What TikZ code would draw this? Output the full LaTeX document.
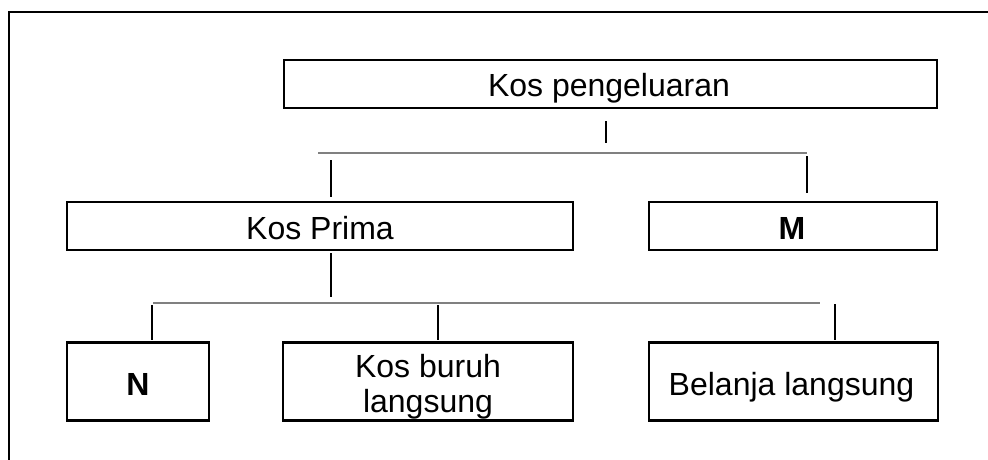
\documentclass[tikz,border=0pt]{standalone}
\usepackage{fontspec}
\setmainfont{Liberation Sans}
\begin{document}
\begin{tikzpicture}[x=1pt,y=-1pt,
  box/.style={draw=black,line width=2.4pt,inner sep=0pt,fill=none},
  lbl/.style={anchor=base,inner sep=0pt,font=\fontsize{32}{36}\selectfont},
  blbl/.style={lbl,font=\fontsize{32}{36}\selectfont\bfseries},
  conn/.style={draw=black,line width=2.6pt},
  bar/.style={draw=gray,line width=2.8pt},
  frame/.style={draw=black,line width=2.4pt}]
\useasboundingbox (0,0) rectangle (988,460);
% frame
\coordinate (fl) at (9,460);
\coordinate (fc) at (9,12);
\coordinate (fr) at (988,12);
\draw[frame] (fl) -- (fc) -- (fr);
% boxes
\node[box,minimum width=653pt,minimum height=48pt] (top) at (610.5,84) {};
\node[box,minimum width=506pt,minimum height=48pt] (prima) at (320,226) {};
\node[box,minimum width=288pt,minimum height=48pt] (m) at (793,226) {};
\node[box,minimum width=142pt,minimum height=78pt] (n) at (138,381.5) {};
\node[box,minimum width=290pt,minimum height=78pt] (buruh) at (428,381.5) {};
\node[box,minimum width=289pt,minimum height=78pt] (belanja) at (793.5,381.5) {};
% labels
\node[lbl] (ttop) at (609,96.7) {Kos pengeluaran};
\node[lbl] (tprima) at (320,239) {Kos Prima};
\node[blbl] (tm) at (792,239) {M};
\node[blbl] (tn) at (138,395) {N};
\node[lbl] (tb1) at (428,377) {Kos buruh};
\node[lbl] (tb2) at (428,412) {langsung};
\node[lbl] (tbel) at (791.5,395) {Belanja langsung};
% connector coordinates
\coordinate (t1) at (606,121);
\coordinate (t2) at (606,143);
\coordinate (b1l) at (318,153);
\coordinate (b1r) at (807,153);
\coordinate (p1) at (331,160);
\coordinate (p2) at (331,197);
\coordinate (m1) at (807,156);
\coordinate (m2) at (807,193);
\coordinate (q1) at (331,253);
\coordinate (q2) at (331,297);
\coordinate (b2l) at (153,303);
\coordinate (b2r) at (820,303);
\coordinate (n1) at (152,305);
\coordinate (n2) at (152,340);
\coordinate (k1) at (438,305);
\coordinate (k2) at (438,340);
\coordinate (e1) at (835,304);
\coordinate (e2) at (835,340);
% connectors
\draw[conn] (t1) -- (t2);
\draw[bar] (b1l) -- (b1r);
\draw[conn] (p1) -- (p2);
\draw[conn] (m1) -- (m2);
\draw[conn] (q1) -- (q2);
\draw[bar] (b2l) -- (b2r);
\draw[conn] (n1) -- (n2);
\draw[conn] (k1) -- (k2);
\draw[conn] (e1) -- (e2);
\end{tikzpicture}
\end{document}
